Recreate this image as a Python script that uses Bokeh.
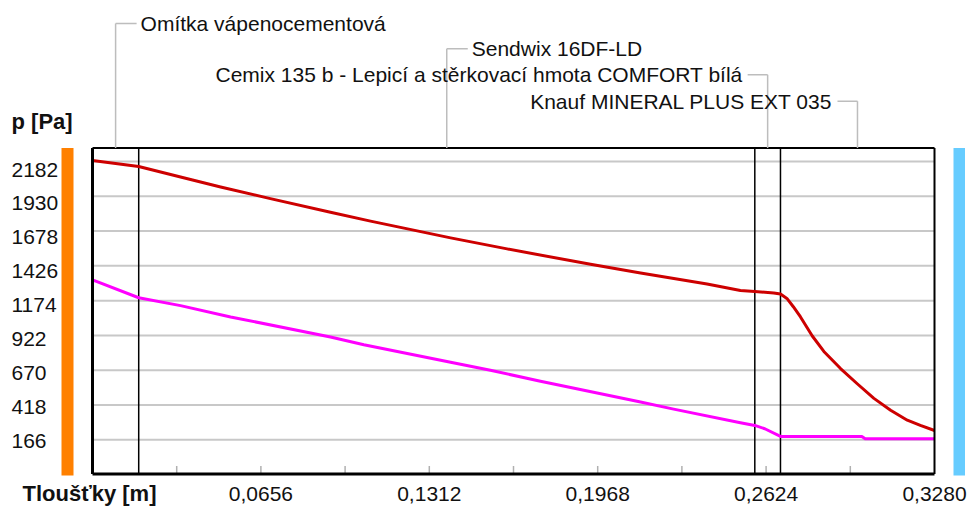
from bokeh.plotting import figure
from bokeh.models import Range1d
from bokeh.core.properties import value
from bokeh.embed import file_html
from bokeh.resources import INLINE

# ---------------- data ----------------
layer_names = [
    "Omítka vápenocementová",
    "Sendwix 16DF-LD",
    "Cemix 135 b - Lepicí a stěrkovací hmota COMFORT bílá",
    "Knauf MINERAL PLUS EXT 035",
]
layer_thickness = [0.018, 0.240, 0.010, 0.060]
label_sides = ["right", "right", "left", "left"]

x_major_ticks = [0.0656, 0.1312, 0.1968, 0.2624, 0.3280]
x_major_labels = ["0,0656", "0,1312", "0,1968", "0,2624", "0,3280"]
x_minor_ticks = [0.0328, 0.0656, 0.0984, 0.1312, 0.1640, 0.1968, 0.2296, 0.2624, 0.2952]
y_ticks = [166, 418, 670, 922, 1174, 1426, 1678, 1930, 2182]
y_tick_labels = ["166", "418", "670", "922", "1174", "1426", "1678", "1930", "2182"]

x_axis_title = "Tloušťky [m]"
y_axis_title = "p [Pa]"

# saturated vapour pressure (red)
psat_x = [0.0, 0.018, 0.0343, 0.0499, 0.0693, 0.0927, 0.1083, 0.1395, 0.1615, 0.194,
          0.2135, 0.2394, 0.2524, 0.258, 0.2654, 0.268, 0.2705, 0.2730, 0.2758, 0.2804,
          0.2849, 0.2914, 0.2979, 0.3044, 0.3109, 0.3174, 0.3225, 0.328]
psat_y = [2189, 2146, 2070, 1998, 1913, 1814, 1750, 1629, 1549, 1437,
          1374, 1295, 1247, 1241, 1230, 1222, 1190, 1130, 1056, 918,
          806, 682, 572, 466, 380, 308, 270, 233]

# partial vapour pressure (magenta)
p_x = [0.0, 0.018, 0.0343, 0.0538, 0.0927, 0.1057, 0.1395, 0.155, 0.1745, 0.2135,
       0.2264, 0.2524, 0.258, 0.2619, 0.268, 0.2997, 0.3010, 0.328]
p_y = [1325, 1195, 1138, 1056, 910, 855, 727, 670, 590, 440,
       388, 290, 270, 246, 190, 190, 173, 173]

X_MIN, X_MAX = 0.0, 0.328
Y_MIN, Y_MAX = -82, 2280

# ---------------- layout ----------------
W, H = 968, 506
OX, OY = 0, 0                      # page offset of the canvas
FL, FR, FT, FB = 92, 934, 147.5, 473.5   # plot frame in page pixels
px_m = (FR - FL) / (X_MAX - X_MIN)
px_p = (FB - FT) / (Y_MAX - Y_MIN)


def cx(page_x):
    return X_MIN + (page_x - FL) / px_m


def cy(page_y):
    return Y_MAX - (page_y - FT) / px_p


p = figure(width=W, height=H, output_backend="svg", toolbar_location=None,
           x_range=Range1d(cx(OX), cx(OX + W)), y_range=Range1d(cy(OY + H), cy(OY)),
           x_axis_location=None, y_axis_location=None, min_border=0,
           background_fill_color="white", border_fill_color="white")
p.outline_line_color = None
p.xgrid.visible = False
p.ygrid.visible = False

FONT = value("Liberation Sans")
TXT = "#111111"

# horizontal grid lines
p.segment(x0=[X_MIN] * len(y_ticks), x1=[X_MAX] * len(y_ticks), y0=y_ticks, y1=y_ticks,
          line_color="#C8C8C8", line_width=2)

# minor ticks on the bottom
p.segment(x0=x_minor_ticks, x1=x_minor_ticks, y0=[cy(473)] * len(x_minor_ticks),
          y1=[cy(465.5)] * len(x_minor_ticks), line_color="#B0B0B0", line_width=1.5)

# layer boundaries
bounds = []
acc = 0.0
for t in layer_thickness[:-1]:
    acc += t
    bounds.append(acc)
p.segment(x0=bounds, x1=bounds, y0=[Y_MIN] * len(bounds), y1=[Y_MAX] * len(bounds),
          line_color="black", line_width=1.5)

# curves
p.line(psat_x, psat_y, line_color="#CD0000", line_width=3, line_join="round")
p.line(p_x, p_y, line_color="#FF00FF", line_width=3, line_join="round")

# frame
p.segment(x0=[X_MIN, X_MIN], x1=[X_MIN, X_MAX], y0=[Y_MIN, Y_MIN], y1=[Y_MAX, Y_MIN],
          line_color="black", line_width=3)
p.segment(x0=[X_MIN, X_MAX], x1=[X_MAX, X_MAX], y0=[Y_MAX, Y_MIN], y1=[Y_MAX, Y_MAX],
          line_color="black", line_width=2)

# side bars (interior / exterior)
p.quad(left=[cx(61)], right=[cx(73)], top=[cy(147.5)], bottom=[cy(475)],
       fill_color="#FF8000", line_color=None)
p.quad(left=[cx(953)], right=[cx(964.5)], top=[cy(147.5)], bottom=[cy(475)],
       fill_color="#66CCFF", line_color=None)

# y tick labels (left aligned column)
n = len(y_ticks)
lab_y = [cy(440 - i * (440 - 169) / (n - 1)) for i in range(n)]
p.text(x=[cx(11)] * n, y=lab_y, text=y_tick_labels, text_font=FONT, text_font_size="21px",
       text_align="left", text_baseline="middle", text_color=TXT)
p.text(x=[cx(11)], y=[cy(121)], text=[y_axis_title], text_font=FONT, text_font_size="22px",
       text_font_style="bold", text_align="left", text_baseline="middle", text_color=TXT)

# x tick labels
p.text(x=x_major_ticks, y=[cy(493)] * len(x_major_ticks), text=x_major_labels, text_font=FONT,
       text_font_size="21px", text_align="center", text_baseline="middle", text_color=TXT)
p.text(x=[cx(22)], y=[cy(493)], text=[x_axis_title], text_font=FONT, text_font_size="22px",
       text_font_style="bold", text_align="left", text_baseline="middle", text_color=TXT)

# layer annotations with leader lines
levels = [23, 48.3, 74.3, 100.7]
acc = 0.0
for name, t, side, lev in zip(layer_names, layer_thickness, label_sides, levels):
    mid = acc + t / 2
    acc += t
    yl = cy(lev)
    p.line([mid, mid], [Y_MAX, yl], line_color="#BDBDBD", line_width=1.5)
    if side == "right":
        p.line([mid, mid + 21 / px_m], [yl, yl], line_color="#BDBDBD", line_width=1.5)
        p.text(x=[mid], y=[yl], text=[name], x_offset=25, text_font=FONT, text_font_size="21px",
               text_align="left", text_baseline="middle", text_color=TXT)
    else:
        p.line([mid - 20 / px_m, mid], [yl, yl], line_color="#BDBDBD", line_width=1.5)
        p.text(x=[mid], y=[yl], text=[name], x_offset=-25, text_font=FONT, text_font_size="21px",
               text_align="right", text_baseline="middle", text_color=TXT)

open("out.html", "w").write(file_html(p, INLINE))
